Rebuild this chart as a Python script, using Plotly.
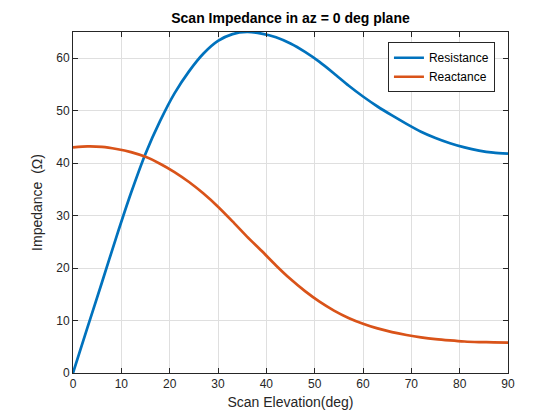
import plotly.graph_objects as go

# Scan elevation angles (deg)
elev = [0, 3, 6, 9, 12, 15, 18, 21, 24, 27, 30, 33, 36, 39, 42, 45, 48, 51, 54, 57,
        60, 63, 66, 69, 72, 75, 78, 81, 84, 87, 90]
resistance = [0.0, 8.7, 17.3, 26.0, 34.3, 41.8, 48.0, 53.3, 57.5, 60.9, 63.3, 64.6, 65.0,
              64.7, 64.0, 62.8, 61.2, 59.3, 57.1, 54.8, 52.7, 50.8, 49.1, 47.5, 46.0, 44.8,
              43.8, 43.0, 42.4, 42.0, 41.8]
reactance = [43.0, 43.2, 43.1, 42.7, 42.1, 41.2, 39.9, 38.3, 36.4, 34.2, 31.7, 28.9, 26.0,
             23.3, 20.5, 17.9, 15.6, 13.6, 11.9, 10.5, 9.4, 8.5, 7.8, 7.25, 6.8, 6.45, 6.2,
             6.0, 5.9, 5.85, 5.8]

x_ticks = [0, 10, 20, 30, 40, 50, 60, 70, 80, 90]
y_ticks = [0, 10, 20, 30, 40, 50, 60]

FONT = "Liberation Sans, Arial, sans-serif"
AX = "#262626"

fig = go.Figure()
fig.add_trace(go.Scatter(x=elev, y=resistance, mode="lines", name="Resistance",
                         line=dict(color="#0072BD", width=2.7, shape="spline", smoothing=0.6)))
fig.add_trace(go.Scatter(x=elev, y=reactance, mode="lines", name="Reactance",
                         line=dict(color="#D95319", width=2.7, shape="spline", smoothing=0.6)))

axis_common = dict(
    showline=True, linecolor=AX, linewidth=1, mirror="ticks",
    ticks="inside", ticklen=5, tickcolor=AX, tickwidth=1,
    showgrid=True, gridcolor="#DFDFDF", gridwidth=1, zeroline=False,
    tickfont=dict(family=FONT, size=12, color=AX),
)

fig.update_layout(
    width=560, height=420,
    paper_bgcolor="white", plot_bgcolor="white",
    margin=dict(l=73, r=52, t=32, b=47),
    title=dict(text="<b>Scan Impedance in az = 0 deg plane</b>",
               font=dict(family=FONT, size=14, color="black"),
               x=290.5 / 560, xanchor="center", y=1 - 18 / 420, yanchor="middle"),
    xaxis=dict(range=[0, 90], tickvals=x_ticks,
               title=dict(text="Scan Elevation(deg)", standoff=6,
                          font=dict(family=FONT, size=14, color=AX)),
               **axis_common),
    yaxis=dict(range=[0, 65], tickvals=y_ticks,
               title=dict(text="Impedance  (Ω)", standoff=10,
                          font=dict(family=FONT, size=14, color=AX)),
               **axis_common),
    legend=dict(x=0.97, y=0.97, xanchor="right", yanchor="top",
                bgcolor="white", bordercolor=AX, borderwidth=1,
                font=dict(family=FONT, size=12, color="black"),
                tracegroupgap=0, itemwidth=30),
    showlegend=True,
)

fig.write_html("out.html", config={"displayModeBar": False},
               post_script="document.body.style.margin='0';")
